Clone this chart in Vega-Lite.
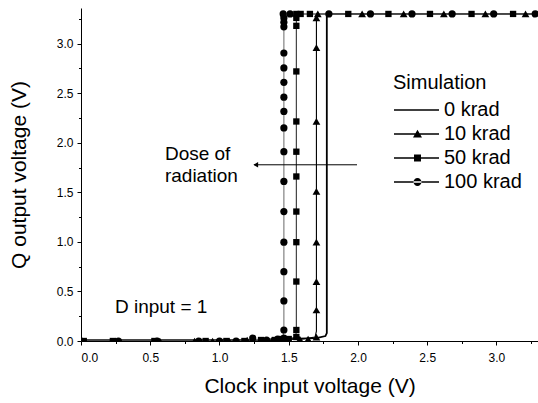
{
  "$schema": "https://vega.github.io/schema/vega-lite/v6.json",
  "width": 457,
  "height": 333,
  "autosize": {"type": "none"},
  "padding": {"left": 81, "top": 8, "right": 0, "bottom": 62},
  "background": "white",
  "config": {
    "view": {"stroke": null},
    "font": "Liberation Sans",
    "axis": {
      "domainColor": "black", "tickColor": "black", "labelColor": "black", "titleColor": "black",
      "grid": false, "labelFont": "Liberation Sans", "titleFont": "Liberation Sans",
      "titleFontWeight": "normal", "labelFontSize": 12, "titleFontSize": 21,
      "domainWidth": 1, "tickWidth": 1
    }
  },
  "datasets": {
    "lines": [
      {"series": "0 krad", "i": 0, "x": 0, "v": 0.01},
      {"series": "0 krad", "i": 1, "x": 1.2, "v": 0.01},
      {"series": "0 krad", "i": 2, "x": 1.7, "v": 0.03},
      {"series": "0 krad", "i": 3, "x": 1.765, "v": 0.05},
      {"series": "0 krad", "i": 4, "x": 1.775, "v": 0.08},
      {"series": "0 krad", "i": 5, "x": 1.775, "v": 3.3},
      {"series": "0 krad", "i": 6, "x": 3.3, "v": 3.3},
      {"series": "10 krad", "i": 0, "x": 0, "v": 0.01},
      {"series": "10 krad", "i": 1, "x": 1.2, "v": 0.01},
      {"series": "10 krad", "i": 2, "x": 1.6, "v": 0.02},
      {"series": "10 krad", "i": 3, "x": 1.69, "v": 0.04},
      {"series": "10 krad", "i": 4, "x": 1.7, "v": 0.1},
      {"series": "10 krad", "i": 5, "x": 1.7, "v": 3.3},
      {"series": "10 krad", "i": 6, "x": 3.3, "v": 3.3},
      {"series": "50 krad", "i": 0, "x": 0, "v": 0.01},
      {"series": "50 krad", "i": 1, "x": 1.2, "v": 0.01},
      {"series": "50 krad", "i": 2, "x": 1.5, "v": 0.02},
      {"series": "50 krad", "i": 3, "x": 1.55, "v": 0.04},
      {"series": "50 krad", "i": 4, "x": 1.555, "v": 0.1},
      {"series": "50 krad", "i": 5, "x": 1.555, "v": 3.3},
      {"series": "50 krad", "i": 6, "x": 3.3, "v": 3.3},
      {"series": "100 krad", "i": 0, "x": 0, "v": 0.01},
      {"series": "100 krad", "i": 1, "x": 1.2, "v": 0.01},
      {"series": "100 krad", "i": 2, "x": 1.44, "v": 0.02},
      {"series": "100 krad", "i": 3, "x": 1.46, "v": 0.04},
      {"series": "100 krad", "i": 4, "x": 1.465, "v": 0.1},
      {"series": "100 krad", "i": 5, "x": 1.465, "v": 3.3},
      {"series": "100 krad", "i": 6, "x": 3.3, "v": 3.3}
    ],
    "pts": [
      {"series": "100 krad", "x": 1.465, "v": 0.03},
      {"series": "100 krad", "x": 1.465, "v": 0.111},
      {"series": "100 krad", "x": 1.465, "v": 0.404},
      {"series": "100 krad", "x": 1.465, "v": 0.70},
      {"series": "100 krad", "x": 1.465, "v": 0.997},
      {"series": "100 krad", "x": 1.465, "v": 1.306},
      {"series": "100 krad", "x": 1.465, "v": 1.61},
      {"series": "100 krad", "x": 1.465, "v": 1.91},
      {"series": "100 krad", "x": 1.465, "v": 2.15},
      {"series": "100 krad", "x": 1.465, "v": 2.316},
      {"series": "100 krad", "x": 1.465, "v": 2.46},
      {"series": "100 krad", "x": 1.465, "v": 2.61},
      {"series": "100 krad", "x": 1.465, "v": 2.755},
      {"series": "100 krad", "x": 1.465, "v": 2.906},
      {"series": "100 krad", "x": 1.465, "v": 3.17},
      {"series": "100 krad", "x": 1.465, "v": 3.215},
      {"series": "100 krad", "x": 1.465, "v": 3.26},
      {"series": "100 krad", "x": 1.46, "v": 3.3},
      {"series": "100 krad", "x": 1.51, "v": 3.3},
      {"series": "100 krad", "x": 1.79, "v": 3.3},
      {"series": "100 krad", "x": 2.09, "v": 3.3},
      {"series": "100 krad", "x": 2.39, "v": 3.3},
      {"series": "100 krad", "x": 2.68, "v": 3.3},
      {"series": "100 krad", "x": 2.98, "v": 3.3},
      {"series": "100 krad", "x": 3.28, "v": 3.3},
      {"series": "100 krad", "x": 0.0, "v": 0.0},
      {"series": "100 krad", "x": 0.27, "v": 0.0},
      {"series": "100 krad", "x": 0.55, "v": 0.0},
      {"series": "100 krad", "x": 0.85, "v": 0.0},
      {"series": "100 krad", "x": 1.0, "v": 0.0},
      {"series": "100 krad", "x": 1.12, "v": 0.0},
      {"series": "100 krad", "x": 1.24, "v": 0.03},
      {"series": "100 krad", "x": 1.34, "v": 0.01},
      {"series": "100 krad", "x": 1.42, "v": 0.02},
      {"series": "50 krad", "x": 1.555, "v": 0.04},
      {"series": "50 krad", "x": 1.555, "v": 0.111},
      {"series": "50 krad", "x": 1.555, "v": 0.60},
      {"series": "50 krad", "x": 1.555, "v": 0.997},
      {"series": "50 krad", "x": 1.555, "v": 1.306},
      {"series": "50 krad", "x": 1.555, "v": 1.66},
      {"series": "50 krad", "x": 1.555, "v": 1.91},
      {"series": "50 krad", "x": 1.555, "v": 2.215},
      {"series": "50 krad", "x": 1.555, "v": 2.72},
      {"series": "50 krad", "x": 1.555, "v": 3.18},
      {"series": "50 krad", "x": 1.555, "v": 3.26},
      {"series": "50 krad", "x": 1.555, "v": 3.3},
      {"series": "50 krad", "x": 1.586, "v": 3.3},
      {"series": "50 krad", "x": 1.653, "v": 3.3},
      {"series": "50 krad", "x": 1.93, "v": 3.3},
      {"series": "50 krad", "x": 2.22, "v": 3.3},
      {"series": "50 krad", "x": 2.52, "v": 3.3},
      {"series": "50 krad", "x": 2.82, "v": 3.3},
      {"series": "50 krad", "x": 3.12, "v": 3.3},
      {"series": "50 krad", "x": 0.02, "v": 0.0},
      {"series": "50 krad", "x": 0.23, "v": 0.0},
      {"series": "50 krad", "x": 0.53, "v": 0.0},
      {"series": "50 krad", "x": 0.9, "v": 0.0},
      {"series": "50 krad", "x": 1.05, "v": 0.0},
      {"series": "50 krad", "x": 1.18, "v": 0.0},
      {"series": "50 krad", "x": 1.3, "v": 0.01},
      {"series": "50 krad", "x": 1.4, "v": 0.01},
      {"series": "50 krad", "x": 1.45, "v": 0.02},
      {"series": "50 krad", "x": 1.5, "v": 0.02},
      {"series": "10 krad", "x": 1.7, "v": 0.04},
      {"series": "10 krad", "x": 1.7, "v": 0.313},
      {"series": "10 krad", "x": 1.7, "v": 0.60},
      {"series": "10 krad", "x": 1.7, "v": 0.997},
      {"series": "10 krad", "x": 1.7, "v": 1.51},
      {"series": "10 krad", "x": 1.7, "v": 2.215},
      {"series": "10 krad", "x": 1.7, "v": 2.96},
      {"series": "10 krad", "x": 1.7, "v": 3.26},
      {"series": "10 krad", "x": 1.71, "v": 3.3},
      {"series": "10 krad", "x": 2.03, "v": 3.3},
      {"series": "10 krad", "x": 2.33, "v": 3.3},
      {"series": "10 krad", "x": 2.62, "v": 3.3},
      {"series": "10 krad", "x": 2.92, "v": 3.3},
      {"series": "10 krad", "x": 3.21, "v": 3.3},
      {"series": "10 krad", "x": 0.25, "v": 0.0},
      {"series": "10 krad", "x": 0.57, "v": 0.0},
      {"series": "10 krad", "x": 0.82, "v": 0.0},
      {"series": "10 krad", "x": 0.95, "v": 0.0},
      {"series": "10 krad", "x": 1.07, "v": 0.0},
      {"series": "10 krad", "x": 1.2, "v": 0.01},
      {"series": "10 krad", "x": 1.38, "v": 0.01},
      {"series": "10 krad", "x": 1.58, "v": 0.02},
      {"series": "10 krad", "x": 1.64, "v": 0.02}
    ]
  },
  "layer": [
    {
      "data": {"name": "lines"},
      "mark": {"type": "line", "clip": true},
      "encoding": {
        "x": {"field": "x", "type": "quantitative",
          "scale": {"domain": [0, 3.3], "nice": false, "zero": false},
          "axis": {"orient": "bottom", "values": [0, 0.5, 1, 1.5, 2, 2.5, 3], "format": ".1f", "tickSize": 4, "labelPadding": 7, "title": "Clock input voltage (V)", "titlePadding": 12}},
        "y": {"field": "v", "type": "quantitative",
          "scale": {"domain": [0, 3.36], "nice": false},
          "axis": {"orient": "left", "values": [0, 0.5, 1, 1.5, 2, 2.5, 3], "format": ".1f", "tickSize": 4, "labelPadding": 4, "title": "Q output voltage (V)", "titlePadding": 27}},
        "detail": {"field": "series", "type": "nominal"},
        "order": {"field": "i", "type": "quantitative"},
        "stroke": {"field": "series", "type": "nominal",
          "scale": {"domain": ["0 krad", "10 krad", "50 krad", "100 krad"], "range": ["#000000", "#000000", "#333333", "#777777"]},
          "legend": null},
        "strokeWidth": {"condition": {"test": "datum.series === '0 krad'", "value": 1.8}, "value": 1.1}
      }
    },
    {
      "data": {"name": "pts"},
      "mark": {"type": "point", "filled": true, "clip": true, "opacity": 1, "color": "black"},
      "encoding": {
        "x": {"field": "x", "type": "quantitative", "axis": null},
        "y": {"field": "v", "type": "quantitative", "axis": null},
        "shape": {"field": "series", "type": "nominal",
          "scale": {"domain": ["10 krad", "50 krad", "100 krad"], "range": ["triangle-up", "square", "circle"]},
          "legend": null},
        "size": {"condition": [{"test": "datum.series === '10 krad'", "value": 60}, {"test": "datum.series === '50 krad'", "value": 40}], "value": 52}
      }
    },
    {
      "data": {"name": "lines"},
      "mark": {"type": "point", "filled": true, "opacity": 0, "color": "black"},
      "encoding": {
        "x": {"field": "x", "type": "quantitative",
          "axis": {"orient": "bottom", "values": [0.25, 0.75, 1.25, 1.75, 2.25, 2.75, 3.25], "labels": false, "domain": false, "tickSize": 2.5, "title": null}},
        "y": {"field": "v", "type": "quantitative",
          "axis": {"orient": "left", "values": [0.25, 0.75, 1.25, 1.75, 2.25, 2.75, 3.25], "labels": false, "domain": false, "tickSize": 2.5, "title": null}},
        "shape": {"field": "series", "type": "nominal",
          "scale": {"domain": ["0 krad", "10 krad", "50 krad", "100 krad"],
            "range": [
              "M-1,-0.055H2.75V0.055H-1Z",
              "M-1,-0.055H2.75V0.055H-1ZM0.583,0.29L0.958,-0.36L1.333,0.29Z",
              "M-1,-0.055H2.75V0.055H-1ZM0.668,-0.29H1.248V0.29H0.668Z",
              "M-1,-0.055H2.75V0.055H-1ZM0.625,0A0.333,0.333,0,1,0,1.291,0A0.333,0.333,0,1,0,0.625,0Z"
            ]},
          "legend": {
            "title": "Simulation", "orient": "none", "legendX": 312, "legendY": 65,
            "titleFont": "Liberation Sans", "titleFontSize": 20, "titleFontWeight": "normal", "titleColor": "black",
            "labelFont": "Liberation Sans", "labelFontSize": 20, "labelColor": "black",
            "symbolSize": 576, "symbolOpacity": 1, "symbolFillColor": "black",
            "labelOffset": 25, "rowPadding": 1, "titlePadding": 4
          }}
      }
    },
    {
      "data": {"values": [{}]},
      "mark": {"type": "text", "align": "left", "baseline": "alphabetic", "fontSize": 19, "lineHeight": 22, "font": "Liberation Sans", "color": "black"},
      "encoding": {
        "x": {"datum": 0.606, "type": "quantitative", "axis": null},
        "y": {"datum": 1.828, "type": "quantitative", "axis": null},
        "text": {"value": ["Dose of", "radiation"]}
      }
    },
    {
      "data": {"values": [{}]},
      "mark": {"type": "text", "align": "left", "baseline": "alphabetic", "fontSize": 19, "font": "Liberation Sans", "color": "black"},
      "encoding": {
        "x": {"datum": 0.245, "type": "quantitative", "axis": null},
        "y": {"datum": 0.28, "type": "quantitative", "axis": null},
        "text": {"value": "D input = 1"}
      }
    },
    {
      "data": {"values": [{}]},
      "mark": {"type": "rule", "color": "black", "strokeWidth": 1},
      "encoding": {
        "x": {"datum": 1.25, "type": "quantitative", "axis": null},
        "x2": {"datum": 1.993},
        "y": {"datum": 1.778, "type": "quantitative", "axis": null}
      }
    },
    {
      "data": {"values": [{}]},
      "mark": {"type": "point", "shape": "triangle-left", "filled": true, "color": "black", "size": 30, "opacity": 1},
      "encoding": {
        "x": {"datum": 1.262, "type": "quantitative", "axis": null},
        "y": {"datum": 1.778, "type": "quantitative", "axis": null}
      }
    }
  ],
  "resolve": {"scale": {"shape": "independent"}, "axis": {"x": "independent", "y": "independent"}}
}
